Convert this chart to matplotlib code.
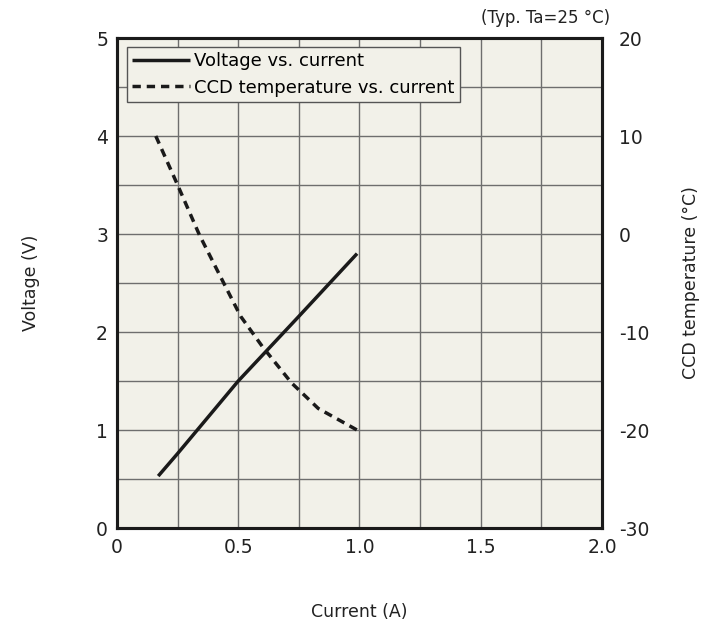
import numpy as np
import matplotlib.pyplot as plt

plt.rcParams["font.family"] = ["DejaVu Sans"]
plt.rcParams["axes.unicode_minus"] = False

# ==== Data ====
current_v = [0.17, 0.25, 0.50, 0.75, 0.99]
voltage = [0.53, 0.76, 1.50, 2.16, 2.80]

current_t = [0.16, 0.25, 0.34, 0.44, 0.51, 0.60, 0.72, 0.83, 0.99]
ccd_temp = [10.0, 5.0, -0.1, -5.0, -8.4, -11.5, -15.2, -17.8, -20.0]

x_ticks = [0, 0.5, 1.0, 1.5, 2.0]
x_labels = ["0", "0.5", "1.0", "1.5", "2.0"]
v_ticks = [0, 1, 2, 3, 4, 5]
t_ticks = [-30, -20, -10, 0, 10, 20]

BG = "#f2f1e9"
INK = "#1a1a1a"
TXT = "#222222"
FS_TICK = 13.5
FS_LAB = 12.5

fig = plt.figure(figsize=(7.06, 6.24), dpi=100)
ax = fig.add_axes([0.1657, 0.1538, 0.687, 0.7853])
ax.set_facecolor(BG)
ax2 = ax.twinx()

# grid
ax.set_xlim(0, 2.0)
ax.set_ylim(0, 5)
ax.set_xticks(x_ticks)
ax.set_xticklabels(x_labels)
ax.set_xticks(np.arange(0, 2.01, 0.25), minor=True)
ax.set_yticks(v_ticks)
ax.set_yticks(np.arange(0, 5.01, 0.5), minor=True)
ax.grid(which="both", color="#6e6e6e", linewidth=1.0)
ax.set_axisbelow(True)

ax2.set_ylim(-30, 20)
ax2.set_yticks(t_ticks)

for a in (ax, ax2):
    a.tick_params(which="both", length=0, labelsize=FS_TICK, colors=TXT)
    for s in a.spines.values():
        s.set_linewidth(2.2)
        s.set_color(INK)
ax.tick_params(axis="x", pad=7)
ax.tick_params(axis="y", pad=6.5)
ax2.tick_params(axis="y", pad=12)

l1, = ax2.plot(current_v, [v * 10 - 30 for v in voltage], color=INK, linewidth=2.5,
               solid_capstyle="butt")
l2, = ax2.plot(current_t, ccd_temp, color=INK, linewidth=2.5, linestyle=(0, (2.4, 1.7)))

ax.set_xlabel("Current (A)", fontsize=FS_LAB, labelpad=33, color=TXT)
ax.set_ylabel("Voltage (V)", fontsize=FS_LAB, labelpad=40, color=TXT)
ax2.set_ylabel("CCD temperature (°C)", fontsize=FS_LAB, labelpad=24, color=TXT)

leg = ax2.legend([l1, l2], ["Voltage vs. current", "CCD temperature vs. current"],
                 loc="upper left", bbox_to_anchor=(10 / 485, 1 - 9 / 490),
                 borderaxespad=0, fontsize=13, handlelength=3.2, handletextpad=0.2,
                 labelspacing=0.45, borderpad=0.3, fancybox=False, framealpha=1,
                 facecolor=BG, edgecolor="#555555")
leg.get_frame().set_linewidth(1.0)

fig.text(610 / 706, 1 - 18 / 624, "(Typ. Ta=25 °C)", ha="right", va="center",
         fontsize=12, color=TXT)

fig.savefig("out.png", dpi=100)
